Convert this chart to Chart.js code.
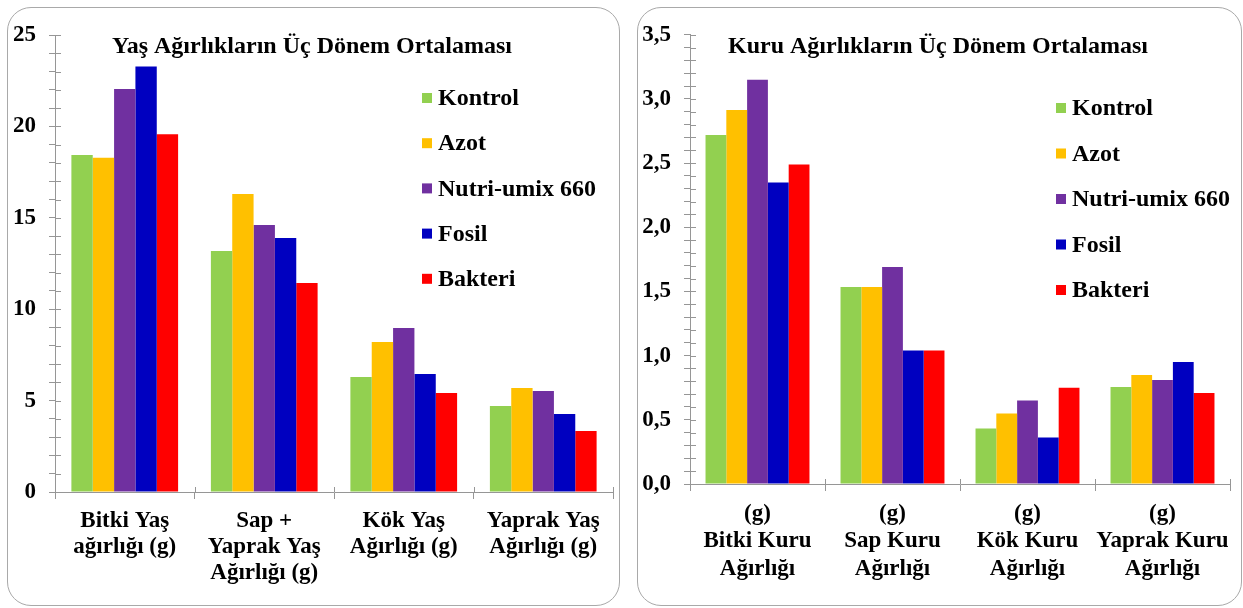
<!DOCTYPE html>
<html lang="tr">
<head>
<meta charset="utf-8">
<title>Yaş ve Kuru Ağırlıklar</title>
<script src="https://cdn.jsdelivr.net/npm/chart.js@4.4.1/dist/chart.umd.min.js"></script>
<style>
  html, body { margin: 0; padding: 0; background: #ffffff; }
  body { width: 1243px; height: 608px; position: relative; overflow: hidden; }
  .box {
    position: absolute;
    box-sizing: border-box;
    border: 1px solid #a9a9a9;
    border-radius: 24px;
    background: #ffffff;
    overflow: hidden;
  }
  .box canvas { position: absolute; left: 0; top: 0; }
</style>
</head>
<body>
<div class="box" style="left:7px; top:7px; width:613px; height:599px;">
  <canvas id="yasChart" width="611" height="597"></canvas>
</div>
<div class="box" style="left:637px; top:7px; width:605px; height:599px;">
  <canvas id="kuruChart" width="603" height="597"></canvas>
</div>
<script>
// ---- data ----
const seriesNames = ["Kontrol", "Azot", "Nutri-umix 660", "Fosil", "Bakteri"];
const seriesColors = ["#92D050", "#FFC000", "#7030A0", "#0000C0", "#FF0000"];

// fresh (yaş) weights, grams
const yasCategories = [
  ["Bitki Yaş", "ağırlığı (g)"],
  ["Sap +", "Yaprak Yaş", "Ağırlığı (g)"],
  ["Kök Yaş", "Ağırlığı (g)"],
  ["Yaprak Yaş", "Ağırlığı (g)"]
];
const yasKontrol = [18.43, 13.18, 6.29, 4.70];
const yasAzot    = [18.29, 16.30, 8.20, 5.69];
const yasNutri   = [22.05, 14.60, 8.97, 5.53];
const yasFosil   = [23.27, 13.90, 6.46, 4.27];
const yasBakteri = [19.57, 11.43, 5.42, 3.34];

// dry (kuru) weights, grams
const kuruCategories = [
  ["(g)", "Bitki Kuru", "Ağırlığı"],
  ["(g)", "Sap Kuru", "Ağırlığı"],
  ["(g)", "Kök Kuru", "Ağırlığı"],
  ["(g)", "Yaprak Kuru", "Ağırlığı"]
];
const kuruKontrol = [2.72, 1.535, 0.433, 0.755];
const kuruAzot    = [2.914, 1.535, 0.55, 0.85];
const kuruNutri   = [3.15, 1.69, 0.65, 0.81];
const kuruFosil   = [2.35, 1.04, 0.363, 0.95];
const kuruBakteri = [2.49, 1.04, 0.75, 0.71];

const yasTitle = "Yaş Ağırlıkların Üç Dönem Ortalaması";
const kuruTitle = "Kuru Ağırlıkların Üç Dönem Ortalaması";

// ---- shared styling ----
const FONT_FAMILY = '"Liberation Serif", "Times New Roman", serif';
const AXIS_COLOR = "#969696";

function makeDatasets(values, catPct) {
  return values.map((v, i) => ({
    label: seriesNames[i],
    data: v,
    backgroundColor: seriesColors[i],
    borderWidth: 0,
    barPercentage: 1.0,
    categoryPercentage: catPct
  }));
}

// Draws the title and the overlaid legend inside the plot area,
// plus the inner half of the crossing tick marks.
const overlayPlugin = {
  id: "overlay",
  afterDraw(chart, args, opts) {
    const ctx = chart.ctx;
    ctx.save();

    // inner halves of tick marks
    ctx.strokeStyle = AXIS_COLOR;
    ctx.lineWidth = 1;
    const ys = chart.scales.y;
    const xs = chart.scales.x;
    const area = chart.chartArea;
    ctx.beginPath();
    ys.ticks.forEach((t, i) => {
      const py = Math.round(ys.getPixelForTick(i)) + 0.5;
      ctx.moveTo(area.left, py);
      ctx.lineTo(area.left + opts.innerTick, py);
    });
    const n = chart.data.labels.length;
    for (let i = 0; i <= n; i++) {
      const px = Math.round(xs.left + (xs.right - xs.left) * i / n) + 0.5;
      ctx.moveTo(px, area.bottom);
      ctx.lineTo(px, area.bottom - opts.innerTickX);
    }
    ctx.stroke();

    // title
    ctx.fillStyle = "#000000";
    ctx.font = "bold " + opts.titleSize + "px " + FONT_FAMILY;
    ctx.textAlign = "center";
    ctx.textBaseline = "middle";
    ctx.fillText(opts.title, opts.titleX, opts.titleY);

    // legend
    ctx.font = "bold " + opts.legendSize + "px " + FONT_FAMILY;
    ctx.textAlign = "left";
    chart.data.datasets.forEach((ds, i) => {
      const cy = opts.legendY + i * opts.legendStep;
      ctx.fillStyle = ds.backgroundColor;
      ctx.fillRect(opts.legendX, cy - 5, 10, 10);
      ctx.fillStyle = "#000000";
      ctx.fillText(ds.label, opts.legendX + 16, cy + 1);
    });
    ctx.restore();
  }
};

function makeChart(canvasId, cfg) {
  return new Chart(document.getElementById(canvasId), {
    type: "bar",
    data: {
      labels: cfg.categories,
      datasets: makeDatasets(cfg.values, cfg.catPct)
    },
    options: {
      responsive: false,
      animation: false,
      layout: { padding: { top: cfg.padTop, right: cfg.padRight, left: 0, bottom: 0 } },
      plugins: {
        legend: { display: false },
        tooltip: { enabled: false },
        title: { display: false },
        overlay: cfg.overlay
      },
      scales: {
        x: {
          offset: true,
          grid: {
            offset: true,
            drawOnChartArea: false,
            drawTicks: true,
            tickLength: 7,
            color: AXIS_COLOR
          },
          border: { display: true, color: AXIS_COLOR, width: 1 },
          ticks: {
            color: "#000000",
            padding: 9,
            maxRotation: 0,
            autoSkip: false,
            font: { family: FONT_FAMILY, size: 23, weight: "bold", lineHeight: cfg.lineHeight }
          },
          afterFit(scale) { scale.height = cfg.xHeight; }
        },
        y: {
          min: 0,
          max: cfg.max,
          grid: {
            drawOnChartArea: false,
            drawTicks: true,
            tickLength: 6,
            color: AXIS_COLOR
          },
          border: { display: true, color: AXIS_COLOR, width: 1 },
          ticks: {
            stepSize: cfg.step,
            autoSkip: false,
            maxTicksLimit: 100,
            color: "#000000",
            padding: 13,
            font: { family: FONT_FAMILY, size: 23, weight: "bold" },
            callback: cfg.tickFormat
          },
          afterFit(scale) { scale.width = cfg.yWidth; }
        }
      }
    },
    plugins: [overlayPlugin]
  });
}

makeChart("yasChart", {
  categories: yasCategories,
  values: [yasKontrol, yasAzot, yasNutri, yasFosil, yasBakteri],
  catPct: 0.765,
  max: 25,
  step: 1,
  tickFormat: (v) => (Math.abs(v % 5) < 1e-9 ? String(v) : ""),
  yWidth: 47,
  xHeight: 113,
  padTop: 27,
  padRight: 6,
  lineHeight: 1.13,
  overlay: {
    title: yasTitle, titleX: 304, titleY: 39, titleSize: 24,
    legendX: 414, legendY: 90, legendStep: 45.2, legendSize: 24,
    innerTick: 6, innerTickX: 5
  }
});

makeChart("kuruChart", {
  categories: kuruCategories,
  values: [kuruKontrol, kuruAzot, kuruNutri, kuruFosil, kuruBakteri],
  catPct: 0.77,
  max: 3.5,
  step: 0.1,
  tickFormat: (v) => {
    const h = v * 2;
    return Math.abs(h - Math.round(h)) < 1e-6 ? v.toFixed(1).replace(".", ",") : "";
  },
  yWidth: 52,
  xHeight: 121,
  padTop: 26,
  padRight: 11,
  lineHeight: 1.2,
  overlay: {
    title: kuruTitle, titleX: 300, titleY: 39, titleSize: 24,
    legendX: 418, legendY: 100, legendStep: 45.5, legendSize: 24,
    innerTick: 6, innerTickX: 5
  }
});
</script>
</body>
</html>
